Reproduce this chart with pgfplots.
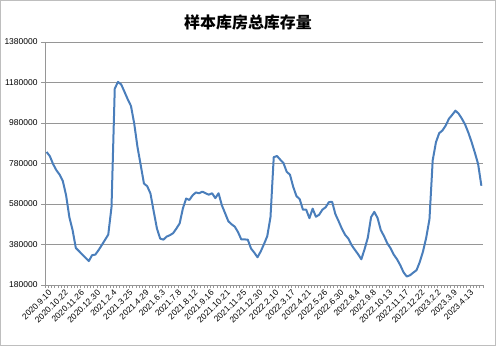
\documentclass[border=0pt]{standalone}
\usepackage{fontspec}
\setmainfont{Liberation Sans}
\newfontfamily\cjk{Noto Sans CJK SC}
\usepackage{pgfplots}
\usepackage{pgfplotstable}
\pgfplotsset{compat=1.18}
\definecolor{linec}{RGB}{74,126,187}
\definecolor{gridc}{RGB}{150,150,150}
\definecolor{framec}{RGB}{190,190,190}
\pgfplotstableread{
i v
0 837000
1 816000
2 777000
3 747000
4 725000
5 693000
6 623000
7 516000
8 451000
9 363000
10 347000
11 330000
12 314000
13 298000
14 327000
15 330000
16 352000
17 377000
18 403000
19 429000
20 565000
21 1150000
22 1183000
23 1170000
24 1134000
25 1097000
26 1064000
27 977000
28 862000
29 772000
30 681000
31 668000
32 632000
33 544000
34 459000
35 409000
36 404000
37 419000
38 426000
39 436000
40 459000
41 484000
42 558000
43 607000
44 600000
45 623000
46 637000
47 633000
48 641000
49 633000
50 626000
51 633000
52 609000
53 633000
54 574000
55 535000
56 495000
57 480000
58 468000
59 441000
60 405000
61 405000
62 404000
63 360000
64 340000
65 317000
66 346000
67 382000
68 421000
69 515000
70 811000
71 817000
72 799000
73 782000
74 739000
75 725000
76 665000
77 619000
78 604000
79 552000
80 552000
81 510000
82 557000
83 517000
84 527000
85 552000
86 564000
87 589000
88 591000
89 530000
90 495000
91 458000
92 428000
93 409000
94 377000
95 354000
96 332000
97 307000
98 357000
99 414000
100 515000
101 541000
102 511000
103 451000
104 421000
105 386000
106 362000
107 330000
108 307000
109 278000
110 243000
111 222000
112 228000
113 241000
114 253000
115 293000
116 345000
117 414000
118 505000
119 796000
120 885000
121 930000
122 943000
123 967000
124 1001000
125 1020000
126 1041000
127 1026000
128 1001000
129 972000
130 932000
131 885000
132 833000
133 777000
134 670000
}\datatable
\begin{document}
\begin{tikzpicture}
\useasboundingbox (0,0) rectangle (496bp,346bp);
\draw[framec, line width=1bp] (0.5bp,0.5bp) rectangle (495.5bp,345.5bp);
\node[font=\cjk\bfseries\fontsize{16}{19}\selectfont] at (248bp,324bp) {样本库房总库存量};
\begin{axis}[
  at={(45bp,61bp)}, anchor=south west,
  scale only axis, width=438bp, height=243bp,
  xmin=-0.5, xmax=134.5, ymin=180000, ymax=1380000,
  axis x line*=bottom, axis y line*=left,
  axis line style={gridc, line width=0.8bp},
  ytick={180000,380000,...,1380000},
  scaled y ticks=false,
  yticklabel style={/pgf/number format/fixed,/pgf/number format/1000 sep={}},
  /pgf/number format/assume math mode=true,
  ticklabel style={font=\fontsize{8.5}{9.5}\selectfont},
  ymajorgrids, major grid style={gridc, line width=0.8bp},
  xtick={0,5,...,130},
  xticklabels={2020.9.10,2020.10.22,2020.11.26,2020.12.30,2021.2.4,2021.3.25,2021.4.29,2021.6.3,2021.7.8,2021.8.12,2021.9.16,2021.10.21,2021.11.25,2021.12.30,2022.2.10,2022.3.17,2022.4.21,2022.5.26,2022.6.30,2022.8.4,2022.9.8,2022.10.13,2022.11.17,2022.12.22,2023.2.2,2023.3.9,2023.4.13},
  x tick label style={rotate=45, anchor=north east, inner sep=1pt, xshift=2bp},
  minor xtick={-0.5,0.5,...,134.5},
  major x tick style={draw=none},
  tick style={gridc, line width=0.6bp},
  tick align=outside,
  major tick length=4bp, minor tick length=3bp,
  clip=false,
]
\addplot[linec, line width=2bp, line join=round] table[x=i, y=v] {\datatable};
\end{axis}
\end{tikzpicture}
\end{document}
